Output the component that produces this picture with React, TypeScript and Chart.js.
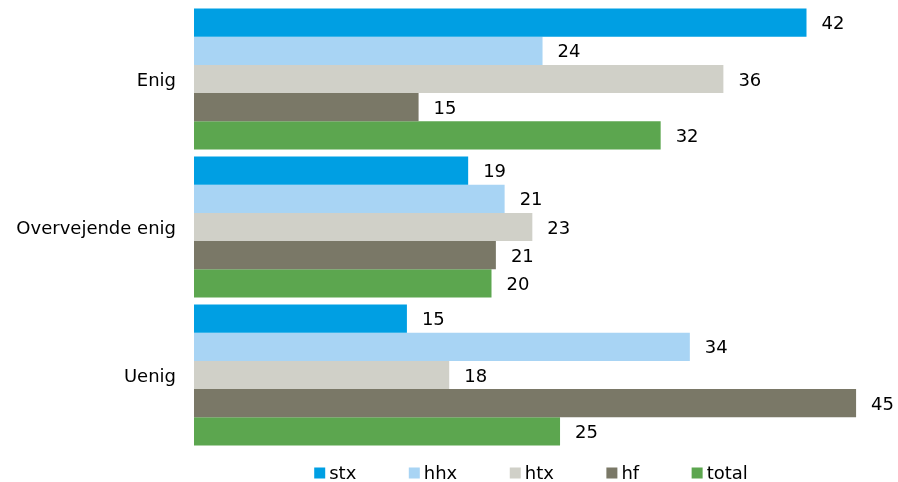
import React, { useEffect, useRef } from "react";
import { Chart, registerables } from "chart.js";

Chart.register(...registerables);

const FONT = "'DejaVu Sans', Verdana, sans-serif";

const categories = ["Enig", "Overvejende enig", "Uenig"];
const seriesNames = ["stx", "hhx", "htx", "hf", "total"];
const seriesColors = ["#009fe3", "#a8d4f4", "#d0d0c8", "#7a7867", "#5ca64f"];

const stx = [42.0, 18.8, 14.6];
const hhx = [23.9, 21.3, 34.0];
const htx = [36.3, 23.2, 17.5];
const hf = [15.4, 20.7, 45.4];
const total = [32.0, 20.4, 25.1];

const seriesValues = [stx, hhx, htx, hf, total];

const valueLabelsPlugin = {
  id: "valueLabels",
  afterDatasetsDraw(chart: any) {
    const ctx = chart.ctx;
    ctx.save();
    ctx.font = `18px ${FONT}`;
    ctx.fillStyle = "#000";
    ctx.textAlign = "left";
    ctx.textBaseline = "middle";
    chart.data.datasets.forEach((ds: any, i: number) => {
      const meta = chart.getDatasetMeta(i);
      meta.data.forEach((bar: any, j: number) => {
        ctx.fillText(String(Math.round(ds.data[j])), bar.x + 15, bar.y + 2);
      });
    });
    ctx.restore();
  },
};

const bottomLegendPlugin = {
  id: "bottomLegend",
  afterDraw(chart: any, _args: any, opts: any) {
    const ctx = chart.ctx;
    ctx.save();
    ctx.font = `${opts.fontSize}px ${FONT}`;
    ctx.textBaseline = "middle";
    ctx.textAlign = "left";
    const items = chart.data.datasets.map((ds: any) => ({
      text: ds.label,
      color: ds.backgroundColor,
      w: ctx.measureText(ds.label).width,
    }));
    const box = opts.boxSize;
    const tg = opts.textGap;
    const gap = opts.itemGap;
    const totalW =
      items.reduce((s: number, it: any) => s + box + tg + it.w, 0) +
      gap * (items.length - 1);
    let x = opts.centerX - totalW / 2;
    const y = opts.y;
    for (const it of items) {
      ctx.fillStyle = it.color;
      ctx.fillRect(x, y - box / 2, box, box);
      ctx.fillStyle = "#000";
      ctx.fillText(it.text, x + box + tg, y + 1);
      x += box + tg + it.w + gap;
    }
    ctx.restore();
  },
};

export default function App() {
  const canvasRef = useRef<HTMLCanvasElement | null>(null);

  useEffect(() => {
    if (!canvasRef.current) return;
    const chart = new Chart(canvasRef.current, {
      type: "bar",
      data: {
        labels: categories,
        datasets: seriesNames.map((name, i) => ({
          label: name,
          data: seriesValues[i],
          backgroundColor: seriesColors[i],
          borderWidth: 0,
          categoryPercentage: 0.953,
          barPercentage: 1,
        })),
      },
      options: {
        indexAxis: "y",
        responsive: false,
        animation: false,
        layout: { padding: { left: 0, right: 4, top: 5, bottom: 33 } },
        plugins: {
          legend: { display: false },
          tooltip: { enabled: false },
          bottomLegend: {
            fontSize: 18,
            boxSize: 11,
            textGap: 4,
            itemGap: 52.5,
            centerX: 531,
            y: 473,
          },
        } as any,
        scales: {
          x: {
            display: false,
            min: 0,
            max: 48,
          },
          y: {
            grid: { display: false, drawTicks: false },
            border: { display: false },
            ticks: {
              color: "#000",
              font: { family: FONT, size: 18 },
              padding: 18,
              labelOffset: 2,
            },
            afterFit(scale: any) {
              scale.width = 194;
              scale.paddingTop = 0;
              scale.paddingBottom = 0;
              scale.paddingLeft = 0;
              scale.paddingRight = 0;
            },
          },
        },
      },
      plugins: [valueLabelsPlugin, bottomLegendPlugin],
    });
    return () => chart.destroy();
  }, []);

  return (
    <div
      style={{
        position: "fixed",
        left: 0,
        top: 0,
        width: 898,
        height: 482,
        background: "#fff",
      }}
    >
      <canvas
        ref={canvasRef}
        width={898}
        height={482}
        style={{ display: "block", width: 898, height: 482 }}
      />
    </div>
  );
}
